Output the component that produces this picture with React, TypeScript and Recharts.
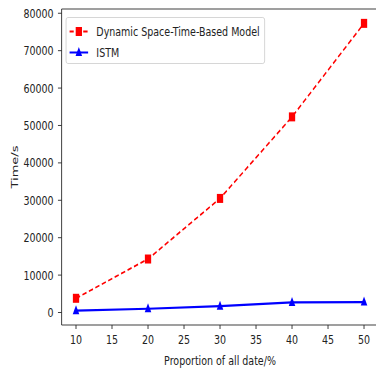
import { LineChart, Line, XAxis, YAxis, Legend, ReferenceLine } from "recharts";

const proportions = [10, 20, 30, 40, 50];
const dynamicModel = [3800, 14300, 30500, 52300, 77300];
const istm = [500, 1000, 1700, 2700, 2800];
const xTicks = [10, 15, 20, 25, 30, 35, 40, 45, 50];
const yTicks = [0, 10000, 20000, 30000, 40000, 50000, 60000, 70000, 80000];

const data = proportions.map((p, i) => ({ p, dynamic: dynamicModel[i], istm: istm[i] }));

// the reference picture is squeezed horizontally, so we draw wide and scale down
const SQUEEZE = 0.73;
const FONT = "'DejaVu Sans', sans-serif";
const FS = 13;
const RED = "#ff0000";
const BLUE = "#0000ff";

const Square = (props: any) => {
  const { cx, cy, index } = props;
  if (cx == null || cy == null) return <g key={index} />;
  return <rect key={index} x={cx - 4.3} y={cy - 4.5} width={8.6} height={9} fill={RED} />;
};

const Triangle = (props: any) => {
  const { cx, cy, index } = props;
  if (cx == null || cy == null) return <g key={index} />;
  return (
    <polygon
      key={index}
      points={`${cx},${cy - 5.5} ${cx - 4.5},${cy + 3.5} ${cx + 4.5},${cy + 3.5}`}
      fill={BLUE}
    />
  );
};

function LegendBox() {
  const row = (label: string, color: string, dashed: boolean, marker: "s" | "t") => (
    <div style={{ display: "flex", alignItems: "center", height: 21 }}>
      <svg width={26} height={21} style={{ marginLeft: 4, marginRight: 11 }}>
        <line
          x1={0}
          x2={26}
          y1={10.5}
          y2={10.5}
          stroke={color}
          strokeWidth={dashed ? 1.8 : 2.2}
          strokeDasharray={dashed ? "6 3.5" : undefined}
        />
        {marker === "s" ? (
          <rect x={8.7} y={6} width={8.6} height={9} fill={color} />
        ) : (
          <polygon points="13,5 8.5,14 17.5,14" fill={color} />
        )}
      </svg>
      <span style={{ fontFamily: FONT, fontSize: FS, color: "#222", whiteSpace: "nowrap" }}>{label}</span>
    </div>
  );
  return (
    <div
      style={{
        width: 273,
        height: 47,
        boxSizing: "border-box",
        border: "1px solid #d0d0d0",
        borderRadius: 3,
        background: "rgba(255,255,255,0.85)",
        paddingTop: 2.5,
      }}
    >
      {row("Dynamic Space-Time-Based Model", RED, true, "s")}
      {row("ISTM", BLUE, false, "t")}
    </div>
  );
}

export default function App() {
  return (
    <div
      style={{
        position: "absolute",
        left: 0,
        top: 0,
        width: 376,
        height: 368,
        overflow: "hidden",
        background: "#fff",
      }}
    >
      <div style={{ width: 530, height: 368, transform: `scaleX(${SQUEEZE})`, transformOrigin: "0 0" }}>
        <LineChart width={530} height={368} data={data} margin={{ top: 9, right: 11.6, bottom: 0, left: 0 }}>
          <XAxis
            dataKey="p"
            type="number"
            domain={[8, 52]}
            ticks={xTicks}
            allowDataOverflow
            height={43}
            tickSize={4}
            tickMargin={6}
            stroke="#222"
            tick={{ fill: "#222", fontSize: FS, fontFamily: FONT }}
            label={{
              value: "Proportion of all date/%",
              position: "insideBottom",
              offset: 3,
              style: { fill: "#222", fontSize: FS, fontFamily: FONT },
            }}
          />
          <YAxis
            type="number"
            domain={[-3340, 81140]}
            ticks={yTicks}
            allowDataOverflow
            width={84.4}
            tickSize={5}
            tickMargin={6}
            stroke="#222"
            tick={{ fill: "#222", fontSize: FS, fontFamily: FONT }}
            label={{
              value: "Time/s",
              angle: -90,
              position: "insideLeft",
              offset: 19.4,
              style: { fill: "#222", fontSize: FS, fontFamily: FONT, textAnchor: "middle" },
            }}
          />
          <ReferenceLine y={81140} stroke="#222" strokeWidth={1} ifOverflow="visible" />
          <Legend
            verticalAlign="middle"
            align="center"
            layout="horizontal"
            wrapperStyle={{ position: "absolute", top: 17, left: 90, width: 273 }}
            content={() => <LegendBox />}
          />
          <Line
            dataKey="dynamic"
            stroke={RED}
            strokeWidth={1.8}
            strokeDasharray="6 3.5"
            dot={Square}
            activeDot={false}
            isAnimationActive={false}
          />
          <Line
            dataKey="istm"
            stroke={BLUE}
            strokeWidth={2.2}
            dot={Triangle}
            activeDot={false}
            isAnimationActive={false}
          />
        </LineChart>
      </div>
    </div>
  );
}
